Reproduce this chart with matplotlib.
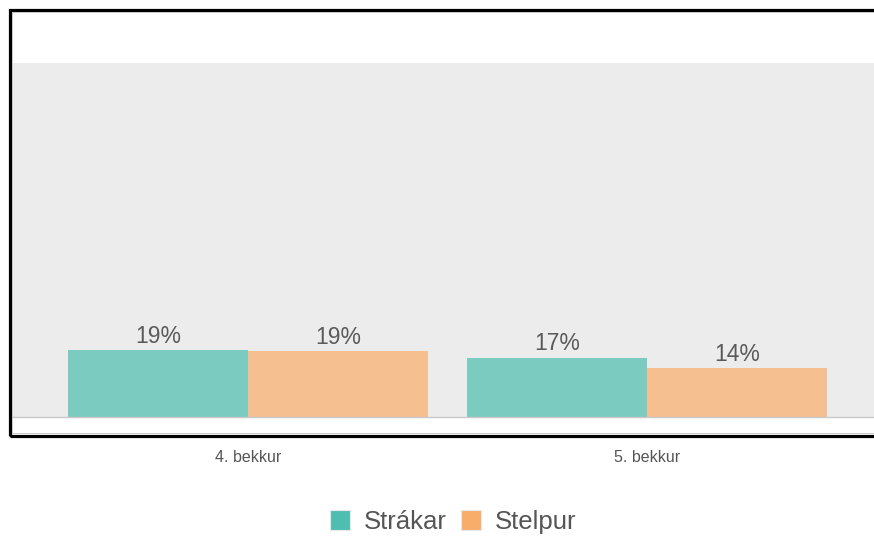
import matplotlib.pyplot as plt
from matplotlib.patches import Rectangle, Patch
import numpy as np

plt.rcParams['font.family'] = ['Liberation Sans', 'DejaVu Sans']

# data
categories = ['4. bekkur', '5. bekkur']
strakar = [19.0, 16.8]
stelpur = [18.7, 13.9]
labels_strakar = ['19%', '17%']
labels_stelpur = ['19%', '14%']

W, H = 874, 536
fig = plt.figure(figsize=(W / 100, H / 100), dpi=100)

# plot area (extends past the right edge, chart is cut off)
ax = fig.add_axes([10 / W, (H - 417) / H, 875 / W, (417 - 63) / H])
ax.set_facecolor('#ececec')

x = np.arange(len(categories))
bw = 0.45
b1 = ax.bar(x - bw / 2, strakar, bw, color='#7bcbc1')
b2 = ax.bar(x + bw / 2, stelpur, bw, color='#f6bf8f')

for bars, labs in [(b1, labels_strakar), (b2, labels_stelpur)]:
    for rect, lab in zip(bars, labs):
        ax.annotate(lab, (rect.get_x() + rect.get_width() / 2, rect.get_height()),
                    xytext=(0, 1.5), textcoords='offset points',
                    ha='center', va='bottom', fontsize=16.5, color='#5a5a5a')

ax.set_ylim(0, 100)
ax.set_xlim(-0.5965, 1.5965)
ax.set_yticks([])
ax.set_xticks(x)
ax.set_xticklabels(categories, fontsize=11.5, color='#555555')
ax.tick_params(axis='x', length=0, pad=23.5)
for s in ['top', 'right', 'left']:
    ax.spines[s].set_visible(False)
ax.spines['bottom'].set_color('#c8c8c8')
ax.spines['bottom'].set_linewidth(1)

# outer frame
fig.patches.append(Rectangle((9.5 / W, (H - 435.5) / H), 1.1, (435.5 - 9.5) / H,
                             transform=fig.transFigure, fill=False,
                             ec='black', lw=2.3, zorder=5))
fig.patches.append(Rectangle((11.8 / W, (H - 433.2) / H), 1.1, (433.2 - 11.8) / H,
                             transform=fig.transFigure, fill=False,
                             ec='#c4c4c4', lw=0.6, zorder=5))

handles = [Patch(facecolor='#4fbeb1', edgecolor='#e8e8e8', lw=0.8),
           Patch(facecolor='#f9ad6b', edgecolor='#e8e8e8', lw=0.8)]
leg = fig.legend(handles, ['Strákar', 'Stelpur'], loc='center',
                 bbox_to_anchor=(453 / W, 1 - 522 / H), ncol=2, frameon=False,
                 fontsize=18.5, handlelength=0.78, handleheight=0.78,
                 handletextpad=0.55, columnspacing=0.55, borderpad=0)
for t in leg.get_texts():
    t.set_color('#555555')

fig.savefig('out.png', dpi=100)
